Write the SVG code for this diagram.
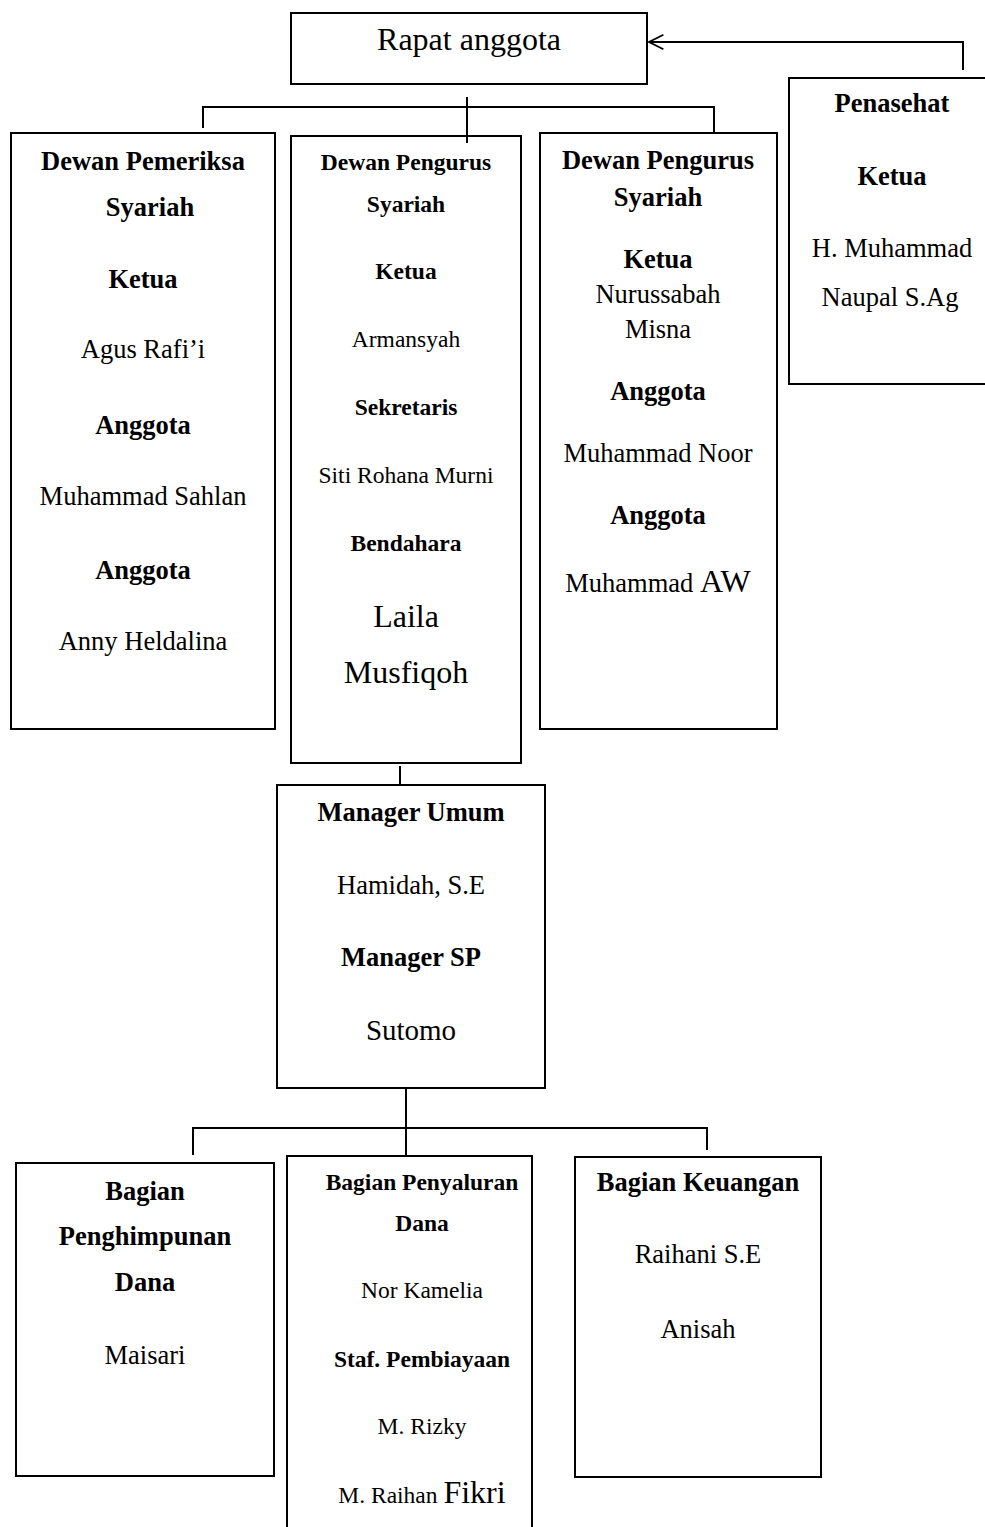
<svg xmlns="http://www.w3.org/2000/svg" width="985" height="1527" viewBox="0 0 985 1527">
<style>
rect.box{fill:#fff;stroke:#000;stroke-width:2}
.c line,.c path{stroke:#000;stroke-width:2;fill:none}
text{font-family:"Liberation Serif","Times New Roman",serif;fill:#000;text-anchor:middle}
.b{font-weight:bold;font-size:26.5px}
.r{font-size:26.5px}
.bs{font-weight:bold;font-size:23.5px}
.rs{font-size:23.5px}
.l{font-size:32px}
</style>
<defs>
<marker id="arr" viewBox="0 0 20 20" refX="18" refY="10" markerWidth="18" markerHeight="18" markerUnits="userSpaceOnUse" orient="auto">
<path d="M2,2 L18,10 L2,18" fill="none" stroke="#000" stroke-width="2"/>
</marker>
</defs>
<g id="rapat">
<rect class="box" x="291" y="13" width="356" height="71"/>
<text x="469" y="50" style="font-size:32px">Rapat anggota</text>
</g>
<g id="dps">
<rect class="box" x="11" y="133" width="264" height="596"/>
<text class="b" x="143" y="170">Dewan Pemeriksa</text>
<text class="b" x="150" y="216">Syariah</text>
<text class="b" x="143" y="288">Ketua</text>
<text class="r" x="143" y="358">Agus Rafi’i</text>
<text class="b" x="143" y="434">Anggota</text>
<text class="r" x="143" y="505">Muhammad Sahlan</text>
<text class="b" x="143" y="579">Anggota</text>
<text class="r" x="143" y="650">Anny Heldalina</text>
</g>
<g id="dpengurus1">
<rect class="box" x="291" y="136" width="230" height="627"/>
<text class="bs" x="406" y="170">Dewan Pengurus</text>
<text class="bs" x="406" y="212">Syariah</text>
<text class="bs" x="406" y="279">Ketua</text>
<text class="rs" x="406" y="347">Armansyah</text>
<text class="bs" x="406" y="415">Sekretaris</text>
<text class="rs" x="406" y="483">Siti Rohana Murni</text>
<text class="bs" x="406" y="551">Bendahara</text>
<text class="l" x="406" y="627">Laila</text>
<text class="l" x="406" y="683">Musfiqoh</text>
</g>
<g id="dpengurus2">
<rect class="box" x="540" y="133" width="237" height="596"/>
<text class="b" x="658" y="169">Dewan Pengurus</text>
<text class="b" x="658" y="206">Syariah</text>
<text class="b" x="658" y="268">Ketua</text>
<text class="r" x="658" y="303">Nurussabah</text>
<text class="r" x="658" y="338">Misna</text>
<text class="b" x="658" y="400">Anggota</text>
<text class="r" x="658" y="462">Muhammad Noor</text>
<text class="b" x="658" y="524">Anggota</text>
<text x="658" y="592"><tspan class="r">Muhammad </tspan><tspan class="l">AW</tspan></text>
</g>
<g id="penasehat">
<rect class="box" x="789" y="78" width="200" height="306"/>
<text class="b" x="892" y="112">Penasehat</text>
<text class="b" x="892" y="185">Ketua</text>
<text class="r" x="892" y="257">H. Muhammad</text>
<text class="r" x="890" y="306">Naupal S.Ag</text>
</g>
<g id="manager">
<rect class="box" x="277" y="785" width="268" height="303"/>
<text class="b" x="411" y="821">Manager Umum</text>
<text class="r" x="411" y="894">Hamidah, S.E</text>
<text class="b" x="411" y="966">Manager SP</text>
<text x="411" y="1040" style="font-size:29px">Sutomo</text>
</g>
<g id="penghimpunan">
<rect class="box" x="16" y="1163" width="258" height="313"/>
<text class="b" x="145" y="1200">Bagian</text>
<text class="b" x="145" y="1245">Penghimpunan</text>
<text class="b" x="145" y="1291">Dana</text>
<text class="r" x="145" y="1364">Maisari</text>
</g>
<g id="penyaluran">
<rect class="box" x="287" y="1156" width="245" height="380"/>
<text class="bs" x="422" y="1190">Bagian Penyaluran</text>
<text class="bs" x="422" y="1231">Dana</text>
<text class="rs" x="422" y="1298">Nor Kamelia</text>
<text class="bs" x="422" y="1367">Staf. Pembiayaan</text>
<text class="rs" x="422" y="1434">M. Rizky</text>
<text x="422" y="1503"><tspan class="rs">M. Raihan </tspan><tspan class="l">Fikri</tspan></text>
</g>
<g id="keuangan">
<rect class="box" x="575" y="1157" width="246" height="320"/>
<text class="b" x="698" y="1191">Bagian Keuangan</text>
<text class="r" x="698" y="1263">Raihani S.E</text>
<text class="r" x="698" y="1338">Anisah</text>
</g>
<g class="c" id="connectors">
<path d="M963,70 V42 H649" marker-end="url(#arr)"/>
<line x1="467" y1="97" x2="467" y2="143"/>
<path d="M203,128 V107 H714 V133"/>
<line x1="400" y1="766" x2="400" y2="785"/>
<line x1="406" y1="1088" x2="406" y2="1157"/>
<path d="M193,1155 V1128 H707 V1150"/>
</g>
</svg>
